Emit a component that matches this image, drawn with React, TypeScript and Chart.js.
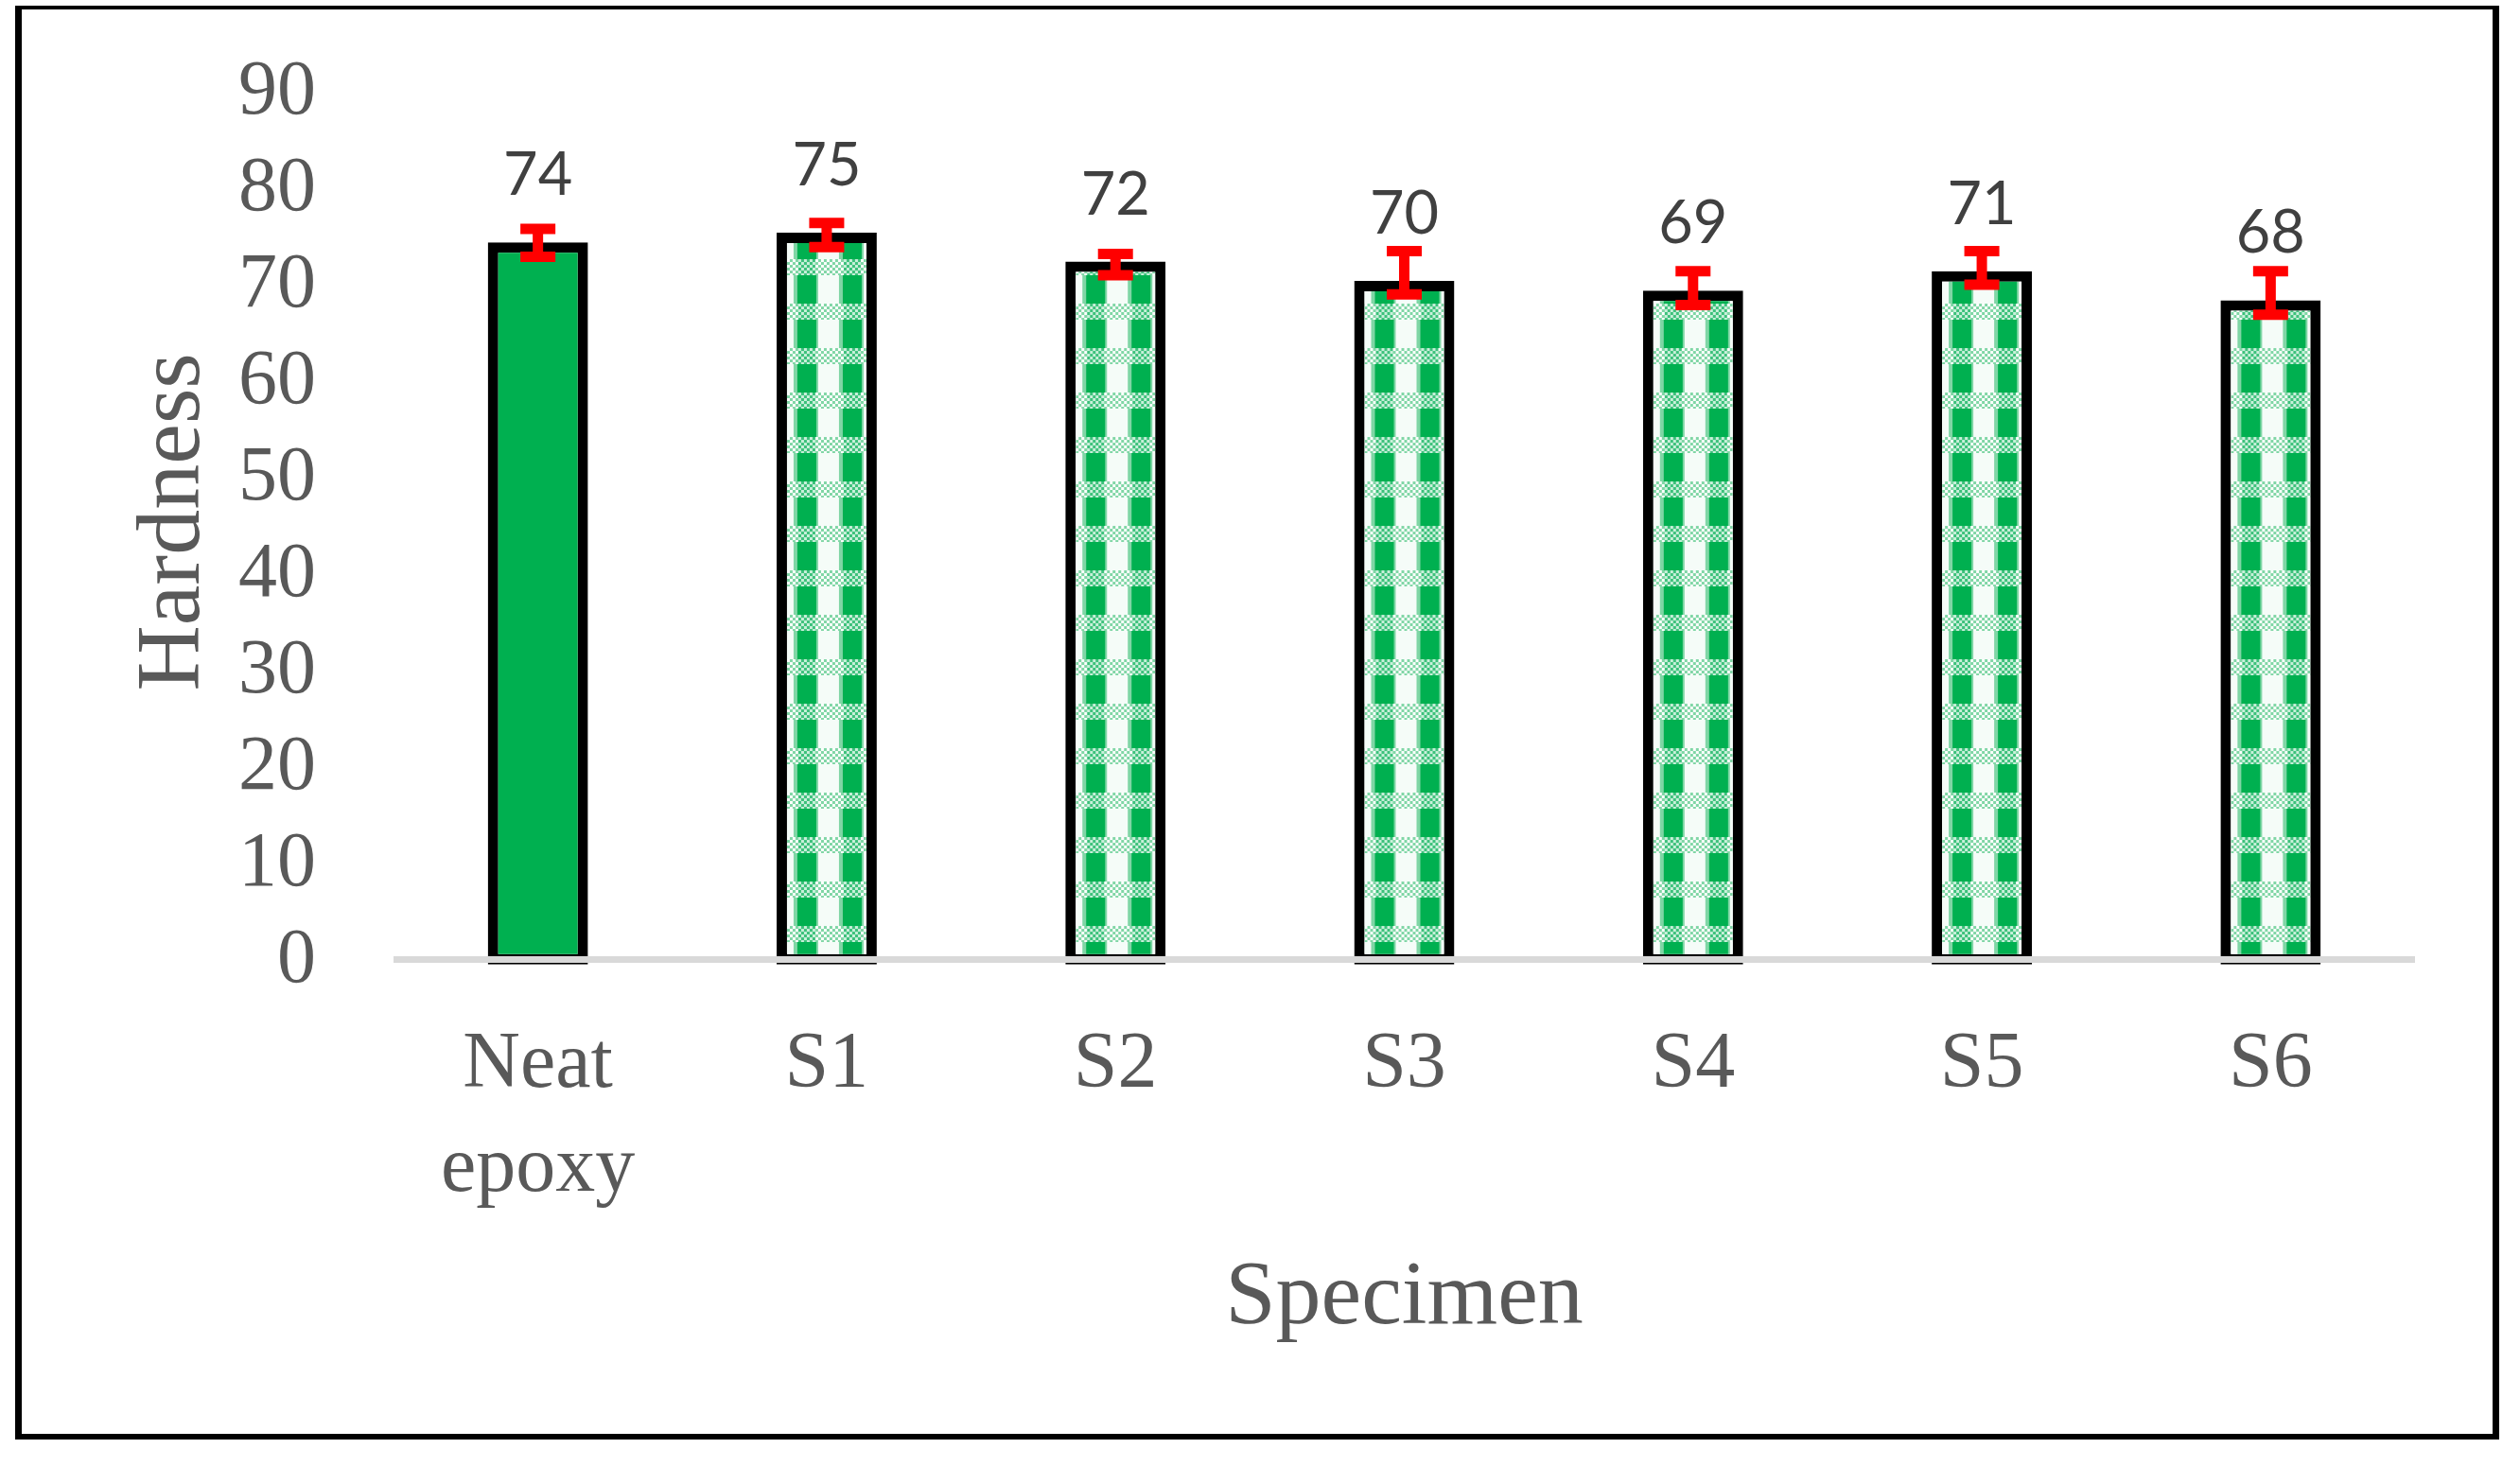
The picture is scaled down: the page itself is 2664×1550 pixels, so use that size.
import { useEffect, useRef } from "react";
import { Chart, registerables, type ChartConfiguration, type Plugin } from "chart.js";

Chart.register(...registerables);

// values
const specimens: (string | string[])[] = [["Neat", "epoxy"], "S1", "S2", "S3", "S4", "S5", "S6"];
const hardness = [74, 75, 72, 70, 69, 71, 68];
const errPlus = [1.4, 1.0, 0.8, 3.1, 2.0, 2.1, 3.0];
const errMinus = [1.5, 1.5, 1.4, 1.4, 1.5, 1.4, 1.5];
const yTicks = [0, 10, 20, 30, 40, 50, 60, 70, 80, 90];

const GREY = "#595959";
const GREEN = "#00b050";
const SERIF = "'Liberation Serif', 'Times New Roman', serif";
const SANS = "Lato, 'Open Sans', sans-serif";

let tile: HTMLCanvasElement | null = null;

// green gingham tile used by the S1..S6 bars
function checkTile() {
  if (tile) return tile;
  const c = document.createElement("canvas");
  c.width = 48;
  c.height = 47;
  const g = c.getContext("2d")!;
  g.fillStyle = "#ffffff";
  g.fillRect(0, 0, 48, 47);
  // block rows: dark square, then white square
  g.fillStyle = GREEN;
  g.fillRect(2, 0, 20, 30);
  g.fillStyle = "#f5fcf8";
  g.fillRect(24, 0, 22, 30);
  g.fillStyle = "#7fd6a5";
  g.fillRect(0, 0, 2, 30);
  g.fillRect(22, 0, 2, 30);
  g.fillRect(46, 0, 2, 30);
  // light checker band
  for (let y = 30; y < 47; y += 3) {
    for (let x = 0; x < 48; x += 3) {
      const on = ((x + y - 30) / 3) % 2 === 0;
      if (x >= 3 && x < 21) g.fillStyle = on ? "#3cc17b" : "#c9f0da";
      else g.fillStyle = on ? "#7fd6a5" : "#ffffff";
      g.fillRect(x, y, 3, 3);
    }
  }
  tile = c;
  return c;
}

function barFill(c: any) {
  const i = c.dataIndex;
  if (i === undefined || i === 0) return GREEN;
  const chart = c.chart as Chart;
  const cx = chart.scales.x.getPixelForValue(i);
  const pat = chart.ctx.createPattern(checkTile(), "repeat");
  if (!pat) return GREEN;
  pat.setTransform(new DOMMatrix([1, 0, 0, 1, cx - 33, 9]));
  return pat;
}

const overlay: Plugin<"bar"> = {
  id: "overlay",
  afterDatasetsDraw(chart) {
    const { ctx, chartArea } = chart;
    const y = chart.scales.y;
    const meta = chart.getDatasetMeta(0);
    ctx.save();

    // category axis line
    const y0 = y.getPixelForValue(0) + 3.5;
    ctx.strokeStyle = "#d9d9d9";
    ctx.lineWidth = 7;
    ctx.beginPath();
    ctx.moveTo(chartArea.left, y0);
    ctx.lineTo(chartArea.right, y0);
    ctx.stroke();

    // error bars
    ctx.strokeStyle = "#ff0000";
    ctx.lineWidth = 11;
    ctx.lineCap = "butt";
    meta.data.forEach((bar, i) => {
      const top = y.getPixelForValue(hardness[i] + errPlus[i]);
      const bot = y.getPixelForValue(hardness[i] - errMinus[i]);
      ctx.beginPath();
      ctx.moveTo(bar.x, top);
      ctx.lineTo(bar.x, bot);
      ctx.moveTo(bar.x - 18.5, top);
      ctx.lineTo(bar.x + 18.5, top);
      ctx.moveTo(bar.x - 18.5, bot);
      ctx.lineTo(bar.x + 18.5, bot);
      ctx.stroke();
    });

    // value labels
    ctx.fillStyle = "#404040";
    ctx.font = `63px ${SANS}`;
    ctx.textAlign = "center";
    ctx.textBaseline = "alphabetic";
    meta.data.forEach((bar, i) => {
      ctx.fillText(String(hardness[i]), bar.x, bar.y - 50);
    });
    ctx.restore();
  },
};

export default function App() {
  const canvasRef = useRef<HTMLCanvasElement>(null);
  const chartRef = useRef<Chart | null>(null);

  useEffect(() => {
    document.body.style.margin = "0";
    if (!canvasRef.current) return;
    chartRef.current?.destroy();

    const cfg: ChartConfiguration<"bar"> = {
      type: "bar",
      data: {
        labels: specimens,
        datasets: [
          {
            data: hardness,
            backgroundColor: barFill as any,
            borderColor: "#000000",
            borderWidth: 11,
            borderSkipped: false,
            barPercentage: 0.347,
            categoryPercentage: 1,
            base: -0.85,
            clip: false as any,
          } as any,
        ],
      },
      options: {
        responsive: false,
        animation: false,
        layout: { padding: { left: 40, right: 111, top: 93, bottom: 0 } },
        plugins: { legend: { display: false }, tooltip: { enabled: false } },
        scales: {
          x: {
            grid: { display: false, drawTicks: false },
            border: { display: false },
            ticks: {
              color: GREY,
              font: { family: SERIF, size: 84, lineHeight: 1.31 },
              padding: 61,
              maxRotation: 0,
              autoSkip: false,
            },
            title: {
              display: true,
              text: "Specimen",
              color: GREY,
              font: { family: SERIF, size: 96, lineHeight: 1 },
              padding: { top: 0, bottom: 128 },
            },
            afterFit: (s) => {
              s.height = 539;
              s.paddingLeft = 0;
              s.paddingRight = 0;
            },
          },
          y: {
            min: yTicks[0],
            max: yTicks[yTicks.length - 1],
            grid: { display: false, drawTicks: false },
            border: { display: false },
            afterBuildTicks: (s) => {
              s.ticks = yTicks.map((v) => ({ value: v }));
            },
            ticks: {
              autoSkip: false,
              color: GREY,
              font: { family: SERIF, size: 82 },
              padding: 82,
              labelOffset: 5,
            },
            title: {
              display: true,
              text: "Hardness",
              color: GREY,
              font: { family: SERIF, size: 96, lineHeight: 1 },
              padding: { top: 97, bottom: 0 },
            },
            afterFit: (s) => {
              s.width = 376;
              s.paddingTop = 0;
              s.paddingBottom = 0;
            },
          },
        },
      },
      plugins: [overlay],
    };

    chartRef.current = new Chart(canvasRef.current, cfg);
    return () => {
      chartRef.current?.destroy();
      chartRef.current = null;
    };
  }, []);

  return (
    <div style={{ position: "relative", width: 2664, height: 1550, background: "#ffffff" }}>
      <canvas
        ref={canvasRef}
        width={2664}
        height={1550}
        style={{ position: "absolute", left: 0, top: 0, width: 2664, height: 1550 }}
      />
      <div
        style={{
          position: "absolute",
          left: 16,
          top: 6,
          width: 2626,
          height: 1516,
          boxSizing: "border-box",
          borderStyle: "solid",
          borderColor: "#000000",
          borderWidth: "4px 7px 6px 7px",
          pointerEvents: "none",
        }}
      />
    </div>
  );
}
